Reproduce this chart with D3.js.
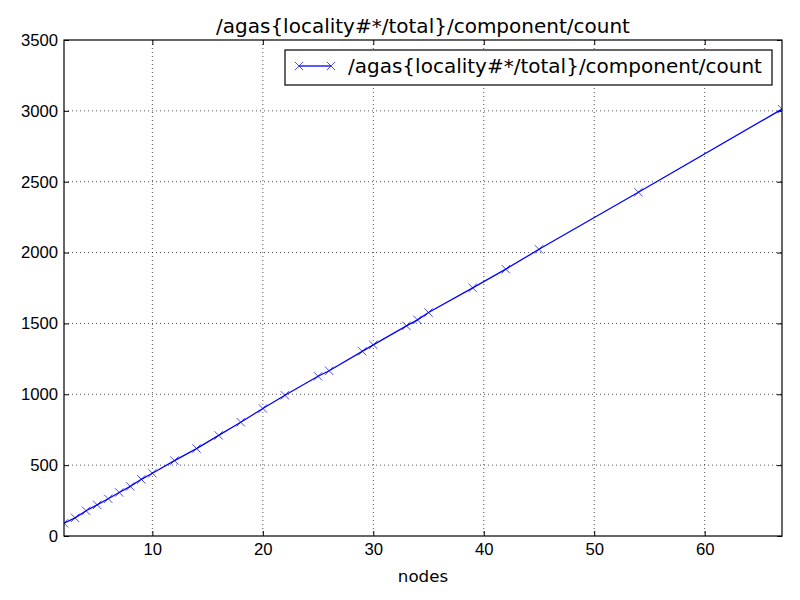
<!DOCTYPE html>
<html>
<head>
<meta charset="utf-8">
<script src="https://cdn.jsdelivr.net/npm/d3@7"></script>
<style>
  body { margin: 0; background: #fff; }
  svg { font-family: "DejaVu Sans", sans-serif; }
</style>
</head>
<body>
<svg width="800" height="600"></svg>
<script>
// values
const nodes = [2, 3, 4, 5, 6, 7, 8, 9, 10, 12, 14, 16, 18, 20, 22, 25, 26, 29, 30, 33, 34, 35, 39, 42, 45, 54, 67]
const counts = [90, 128, 178, 220, 263, 307, 350, 400, 443, 532, 617, 710, 803, 900, 993, 1127, 1166, 1303, 1349, 1483, 1525, 1577, 1751, 1883, 2023, 2426, 3012]
const xTicks = [10, 20, 30, 40, 50, 60]
const yTicks = [0, 500, 1000, 1500, 2000, 2500, 3000, 3500]
const seriesName = "/agas{locality#*/total}/component/count"

const margin = { top: 40, right: 18, bottom: 64, left: 64 }
const width = 800 - margin.left - margin.right
const height = 600 - margin.top - margin.bottom

let data = nodes.map((n, i) => ({ x: n, y: counts[i] }))

let svg = d3.select("svg")
let g = svg.append("g")
  .attr("transform", "translate(" + margin.left + "," + margin.top + ")")

let x = d3.scaleLinear().domain([2, 67]).range([0, width])
let y = d3.scaleLinear().domain([0, 3500]).range([height, 0])

// grid
g.append("g").selectAll("line").data(xTicks).join("line")
  .attr("x1", d => x(d)).attr("x2", d => x(d))
  .attr("y1", 0).attr("y2", height)
  .attr("stroke", "#000").attr("stroke-width", 0.7)
  .attr("stroke-dasharray", "1,3")
g.append("g").selectAll("line").data(yTicks.slice(1, -1)).join("line")
  .attr("x1", 0).attr("x2", width)
  .attr("y1", d => y(d)).attr("y2", d => y(d))
  .attr("stroke", "#000").attr("stroke-width", 0.7)
  .attr("stroke-dasharray", "1,3")

// axes, ticks pointing inward like classic matplotlib
let axisStyle = sel => {
  sel.select(".domain").remove()
  sel.selectAll("text").attr("font-size", "16.7px").attr("fill", "#000")
  sel.selectAll("line").attr("stroke", "#000")
}
g.append("g")
  .attr("transform", "translate(0," + height + ")")
  .call(d3.axisBottom(x).tickValues(xTicks).tickSizeInner(-5).tickSizeOuter(0).tickPadding(7))
  .call(axisStyle)
g.append("g")
  .call(d3.axisTop(x).tickValues(xTicks).tickSizeInner(-5).tickSizeOuter(0).tickFormat(""))
  .call(axisStyle)
g.append("g")
  .call(d3.axisLeft(y).tickValues(yTicks).tickSizeInner(-5).tickSizeOuter(0).tickPadding(6).tickFormat(d3.format("d")))
  .call(axisStyle)
g.append("g")
  .attr("transform", "translate(" + width + ",0)")
  .call(d3.axisRight(y).tickValues(yTicks).tickSizeInner(-5).tickSizeOuter(0).tickFormat(""))
  .call(axisStyle)

// series
svg.append("defs").append("clipPath").attr("id", "clip")
  .append("rect").attr("width", width).attr("height", height)

let plot = g.append("g").attr("clip-path", "url(#clip)")
let line = d3.line().x(d => x(d.x)).y(d => y(d.y))
plot.append("path")
  .datum(data)
  .attr("fill", "none")
  .attr("stroke", "#0000ff")
  .attr("stroke-width", 1.3)
  .attr("d", line)

// matplotlib-like 'x' marker, size = square of its width
const xMark = {
  draw(ctx, size) {
    let r = Math.sqrt(size) / 2
    ctx.moveTo(-r, -r); ctx.lineTo(r, r)
    ctx.moveTo(-r, r); ctx.lineTo(r, -r)
  }
}
let cross = d3.symbol().type(xMark).size(70)
plot.selectAll(".pt").data(data).join("path")
  .attr("class", "pt")
  .attr("transform", d => "translate(" + x(d.x) + "," + y(d.y) + ")")
  .attr("d", cross)
  .attr("fill", "none")
  .attr("stroke", "#0000ff")
  .attr("stroke-width", 0.7)

// frame
g.append("rect")
  .attr("width", width).attr("height", height)
  .attr("fill", "none").attr("stroke", "#000").attr("stroke-width", 1.2)

// title and label
svg.append("text")
  .attr("x", margin.left + width / 2).attr("y", 33)
  .attr("text-anchor", "middle").attr("font-size", "20px")
  .text(seriesName)
svg.append("text")
  .attr("x", margin.left + width / 2).attr("y", 582)
  .attr("text-anchor", "middle").attr("font-size", "16.7px")
  .text("nodes")

// legend
let leg = svg.append("g").attr("transform", "translate(285,50)")
leg.append("rect")
  .attr("width", 487).attr("height", 35)
  .attr("fill", "#fff").attr("stroke", "#000").attr("stroke-width", 1.2)
leg.append("line")
  .attr("x1", 14).attr("x2", 46).attr("y1", 16).attr("y2", 16)
  .attr("stroke", "#0000ff").attr("stroke-width", 1.3)
leg.selectAll(".lm").data([14, 46]).join("path")
  .attr("class", "lm")
  .attr("transform", d => "translate(" + d + ",16)")
  .attr("d", cross)
  .attr("fill", "none").attr("stroke", "#0000ff").attr("stroke-width", 0.7)
leg.append("text")
  .attr("x", 63).attr("y", 23).attr("font-size", "20px")
  .text(seriesName)
</script>
</body>
</html>
